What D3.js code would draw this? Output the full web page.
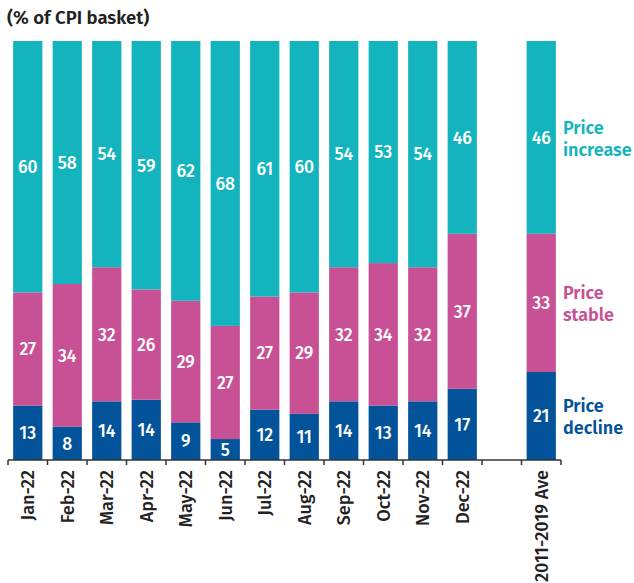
<!DOCTYPE html>
<html>
<head>
<meta charset="utf-8">
<script src="https://cdn.jsdelivr.net/npm/d3@7"></script>
<style>
  html, body { margin: 0; padding: 0; background: #fff; }
  svg { display: block; font-family: "Fira Sans", "Noto Sans", "Open Sans", sans-serif; }
</style>
</head>
<body>
<svg id="chart" width="634" height="583"></svg>
<script>
const categories = ["Jan-22","Feb-22","Mar-22","Apr-22","May-22","Jun-22","Jul-22","Aug-22","Sep-22","Oct-22","Nov-22","Dec-22","","2011-2019 Ave"];
const priceDecline  = [13, 8, 14, 14.4, 9, 5, 12, 11, 14, 13, 14, 17, null, 21];
const priceStable   = [27, 34, 32, 26.3, 29, 27, 27, 29, 32, 34, 32, 37, null, 33];
const priceIncrease = [60, 58, 54, 59.3, 62, 68, 61, 60, 54, 53, 54, 46, null, 46];
const seriesNames = ["Price decline", "Price stable", "Price increase"];
const legendLines = [["Price","decline"],["Price","stable"],["Price","increase"]];
const colors = ["#02539A", "#C85095", "#14B4BE"];
const title = "(% of CPI basket)";

const svg = d3.select("#chart");
const x = d3.scaleBand().domain(categories.map((c,i)=>i)).range([8, 561]).paddingInner(0.26).paddingOuter(0.13);
const y = d3.scaleLinear().domain([0, 100]).range([460, 41]);

const rows = categories.map((c,i)=>({i, c, d: priceDecline[i], s: priceStable[i], n: priceIncrease[i]}))
  .filter(r => r.d !== null);
const stack = d3.stack().keys(["d","s","n"])(rows);

svg.append("text").attr("x", 7).attr("y", 24)
  .attr("font-size", 18.5).attr("font-weight", 600).attr("fill", "#222")
  .text(title);

const g = svg.append("g");
stack.forEach((layer, k) => {
  const lg = g.append("g").attr("fill", colors[k]);
  lg.selectAll("rect").data(layer).join("rect")
    .attr("x", d => x(d.data.i))
    .attr("width", x.bandwidth())
    .attr("y", d => y(d[1]))
    .attr("height", d => y(d[0]) - y(d[1]));
  g.append("g").selectAll("text").data(layer).join("text")
    .attr("x", d => x(d.data.i) + x.bandwidth()/2)
    .attr("y", d => (y(d[0]) + y(d[1]))/2)
    .attr("dy", "0.36em")
    .attr("text-anchor", "middle")
    .attr("font-size", 17.5).attr("font-weight", 500).attr("fill", "#fff")
    .text(d => Math.round(d[1]-d[0]));
});

// axis
const axisG = svg.append("g").attr("transform", "translate(0,460)");
axisG.append("line").attr("x1", 8).attr("x2", 561).attr("stroke", "#333").attr("stroke-width", 1.5);
const edges = d3.range(categories.length + 1).map(i => 8 + i * x.step());
axisG.selectAll("line.tick").data(edges).join("line").attr("class","tick")
  .attr("x1", d=>d).attr("x2", d=>d).attr("y1", 0).attr("y2", 5)
  .attr("stroke", "#333").attr("stroke-width", 1.5);
axisG.selectAll("text").data(categories.map((c,i)=>({c,i}))).join("text")
  .attr("transform", d => `translate(${x(d.i) + x.bandwidth()/2},10) rotate(-90)`)
  .attr("text-anchor", "end").attr("dy", "0.36em")
  .attr("font-size", 18).attr("font-weight", 500).attr("fill", "#222")
  .text(d => d.c);

// legend labels next to the average bar
const aveLayer = stack.map(l => l[l.length-1]);
aveLayer.forEach((d, k) => {
  const cy = (y(d[0]) + y(d[1]))/2;
  const t = svg.append("text").attr("x", 563).attr("y", cy - 11 + 1)
    .attr("font-size", 18).attr("font-weight", 600).attr("fill", colors[k]);
  legendLines[k].forEach((ln, j) => {
    t.append("tspan").attr("x", 563).attr("dy", j === 0 ? "0.36em" : 22).text(ln);
  });
});
</script>
</body>
</html>
